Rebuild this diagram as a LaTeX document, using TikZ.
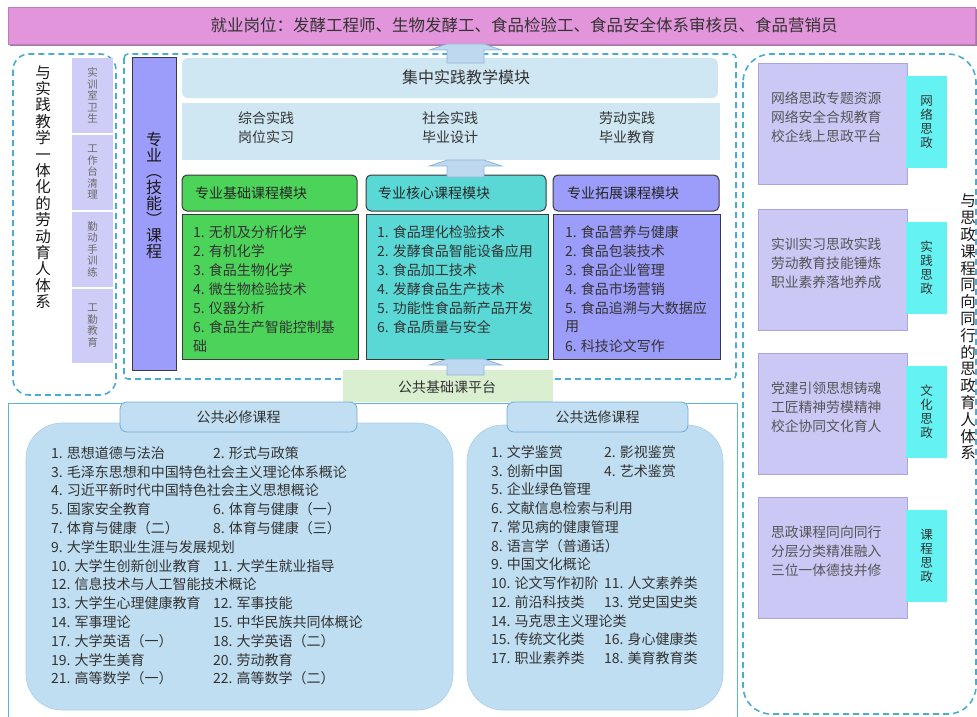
\documentclass[tikz,border=0pt]{standalone}
\usepackage{fontspec}
\setmainfont{Noto Sans CJK SC}
\usetikzlibrary{calc}
\definecolor{txt}{HTML}{333333}
\definecolor{banner}{HTML}{E395DB}
\definecolor{bannerline}{HTML}{BE7DB8}
\definecolor{shadowc}{HTML}{A47BA0}
\definecolor{dashc}{HTML}{4AACD3}
\definecolor{jzc}{HTML}{CFE6F3}
\definecolor{gr}{HTML}{4CD35A}
\definecolor{cy}{HTML}{59D8D5}
\definecolor{pu}{HTML}{9C9CFA}
\definecolor{hdline}{HTML}{3A3A3A}
\definecolor{lav}{HTML}{CDCDF7}
\definecolor{rbox}{HTML}{CBC8F6}
\definecolor{rboxline}{HTML}{A9A4E6}
\definecolor{rtab}{HTML}{64F2F2}
\definecolor{blist}{HTML}{BFDEF1}
\definecolor{blistline}{HTML}{A6CFEA}
\definecolor{btab}{HTML}{C1DEF2}
\definecolor{btabline}{HTML}{72ABD8}
\definecolor{pfc}{HTML}{DAEED0}
\definecolor{arrfill}{HTML}{BED8EF}
\definecolor{arrline}{HTML}{8DB5DD}
\definecolor{bline}{HTML}{5DB2D8}
\definecolor{graytxt}{HTML}{555555}
\newcommand\setfs[2]{\fontsize{#1}{#2}\selectfont}
\newcommand\mybox[6][]{\node[anchor=north west,minimum width={((#5)-(#3))*1pt},minimum height={((#6)-(#4))*1pt},#1] (#2) at (#3,#4) {};}
\newcommand\fatarrow[2]{%
  \path[fatarr] let \p1=#1, \p2=#2 in
   (\x1-18.5pt,\y2) -- (\x1-18.5pt,\y1-6pt) -- (\x1-36pt,\y1-6pt) -- (\x1-18.5pt,\y1)
   -- (\x1+18.5pt,\y1) -- (\x1+36pt,\y1-6pt) -- (\x1+18.5pt,\y1-6pt) -- (\x1+18.5pt,\y2) -- cycle;}
\newcommand\rblock[6]{%
  \mybox[fill=rbox,draw=rboxline,line width=0.8pt]{#1}{758}{#2}{907}{#2+121}
  \mybox[fill=rtab]{#1t}{906}{#2+13}{947}{#2+105}
  \node[font=\setfs{12.5}{14},align=center] at (#1t.center) {#6};
  \node[rtxt] (#1a) at (771,#2+35) {#3};
  \node[rtxt] (#1b) at (771,#2+54) {#4};
  \node[rtxt] (#1c) at (771,#2+73) {#5};}
\begin{document}
\begin{tikzpicture}[x=1pt,y=-1pt,
  every node/.style={inner sep=0pt,outer sep=0pt,text=txt},
  dashline/.style={draw=dashc,line width=1.6pt,dash pattern=on 6pt off 4pt},
  fatarr/.style={fill=arrfill,draw=arrline,line width=0.8pt},
  lst/.style={anchor=west,font=\setfs{14}{16}},
  blst/.style={anchor=west,font=\setfs{14}{16}},
  rtxt/.style={anchor=west,font=\setfs{13.8}{16},text=graytxt},
  hdr/.style={anchor=west,font=\setfs{14}{16},text=black!85},
  vtitle/.style={align=center,text=black!90}]
\useasboundingbox (0,0) rectangle (977,717);

% banner
\fill[shadowc] (10,9) rectangle (977,46.5);
\mybox[fill=banner,draw=bannerline,line width=0.6pt]{banner}{8}{7}{975}{44}
\node[font=\setfs{16.5}{18}] (bantxt) at (524,25.5) {就业岗位：发酵工程师、生物发酵工、食品检验工、食品安全体系审核员、食品营销员};

% dashed frames
\draw[dashline,rounded corners=4pt] (124,54) rectangle (736,379);
\draw[dashline,rounded corners=16pt] (13,54) rectangle (116,395);
\draw[dashline,rounded corners=28pt] (743,54) rectangle (976,714);

% left labour education column
\node[vtitle,font=\setfs{15.5}{16.4}] (lefttitle) at (43,187) {与\\实\\践\\教\\学\\一\\体\\化\\的\\劳\\动\\育\\人\\体\\系};
\mybox[fill=lav]{c1}{72}{58}{113}{133}
\mybox[fill=lav]{c2}{72}{134.5}{113}{210}
\mybox[fill=lav]{c3}{72}{211.5}{113}{287}
\mybox[fill=lav]{c4}{72}{288.5}{113}{363}
\tikzset{cellt/.style={align=center,font=\setfs{10.5}{11.5},text=black!58}}
\node[cellt] at (c1.center) {实\\训\\室\\卫\\生};
\node[cellt] at (c2.center) {工\\作\\台\\清\\理};
\node[cellt] at (c3.center) {勤\\动\\手\\训\\练};
\node[cellt] at (c4.center) {工\\勤\\教\\育};

% professional column
\mybox[fill=pu,draw=hdline,line width=0.8pt]{zy}{132}{57}{176}{370}
\node[vtitle,font=\setfs{16}{16}] (zytxt) at (154,195) {专\\业\\︵\\技\\能\\︶\\课\\程};

% practice module
\mybox[fill=jzc,rounded corners=6pt]{jz}{182}{58}{718}{98}
\node[font=\setfs{16}{18}] (jztxt) at (466,77.5) {集中实践教学模块};
\mybox[fill=jzc]{jzs}{182}{103}{720}{160}
\node[font=\setfs{14}{19},align=center] (s1) at (266,128) {综合实践\\岗位实习};
\node[font=\setfs{14}{19},align=center] (s2) at (450,128) {社会实践\\毕业设计};
\node[font=\setfs{14}{19},align=center] (s3) at (627,128) {劳动实践\\毕业教育};

% module headers
\mybox[fill=gr,draw=hdline,line width=1pt,rounded corners=5pt]{h1}{182}{175}{357}{211}
\mybox[fill=cy,draw=hdline,line width=1pt,rounded corners=5pt]{h2}{366}{175}{546}{211}
\mybox[fill=pu,draw=hdline,line width=1pt,rounded corners=5pt]{h3}{553}{175}{719}{211}
\node[hdr] at (195,193) {专业基础课程模块};
\node[hdr] at (378,193) {专业核心课程模块};
\node[hdr] at (567,193) {专业拓展课程模块};

% module lists
\mybox[fill=gr,draw=hdline,line width=1pt]{l1}{182}{214}{358}{359}
\mybox[fill=cy,draw=hdline,line width=1pt]{l2}{366}{214}{548}{359}
\mybox[fill=pu,draw=hdline,line width=1pt]{l3}{553}{214}{720}{359}
\foreach \t [count=\i from 0] in {1. 无机及分析化学,2. 有机化学,3. 食品生物化学,4. 微生物检验技术,5. 仪器分析,6. 食品生产智能控制基,础}
  \node[lst] (ga\i) at (193,232+19*\i) {\t};
\foreach \t [count=\i from 0] in {1. 食品理化检验技术,2. 发酵食品智能设备应用,3. 食品加工技术,4. 发酵食品生产技术,5. 功能性食品新产品开发,6. 食品质量与安全}
  \node[lst] (cb\i) at (377,232+19*\i) {\t};
\foreach \t [count=\i from 0] in {1. 食品营养与健康,2. 食品包装技术,3. 食品企业管理,4. 食品市场营销,5. 食品追溯与大数据应,用,6. 科技论文写作}
  \node[lst] (pc\i) at (565,232+19*\i) {\t};

% platform
\mybox[fill=pfc]{pf}{343}{370}{553}{402}
\node[font=\setfs{14}{16}] (pftxt) at (447,387) {公共基础课平台};

% arrows
\coordinate (ax) at (465.5,0);
\fatarrow{(ax |- banner.south)}{($(ax |- jz.north)+(0,5)$)}
\fatarrow{(ax |- jzs.south)}{($(ax |- h2.north)+(0,2)$)}
\fatarrow{(ax |- l2.south)}{($(ax |- pf.north)+(0,5)$)}

% bottom public courses
\draw[draw=bline,line width=0.8pt] (8,720) -- (8,403) -- (737,403) -- (737,720);
\mybox[fill=blist,draw=blistline,line width=0.6pt,rounded corners=36pt]{bl}{26}{423}{453}{710}
\mybox[fill=btab,draw=btabline,line width=0.8pt,rounded corners=7pt]{bt1}{120}{402}{357}{432}
\node[font=\setfs{14}{16}] (bt1txt) at (bt1.center) {公共必修课程};
\mybox[fill=blist,draw=blistline,line width=0.6pt,rounded corners=36pt]{br}{467}{425}{723}{710}
\mybox[fill=btab,draw=btabline,line width=0.8pt,rounded corners=7pt]{bt2}{507}{402}{688}{432}
\node[font=\setfs{14}{16}] (bt2txt) at (bt2.center) {公共选修课程};

\foreach \t [count=\i from 0] in {1. 思想道德与法治,3. 毛泽东思想和中国特色社会主义理论体系概论,4. 习近平新时代中国特色社会主义思想概论,5. 国家安全教育,7. 体育与健康（二）,9. 大学生职业生涯与发展规划,10. 大学生创新创业教育,12. 信息技术与人工智能技术概论,13. 大学生心理健康教育,14. 军事理论,17. 大学英语（一）,19. 大学生美育,21. 高等数学（一）}
  \node[blst] (ra\i) at (51,453+18.8*\i) {\t};
\foreach \r/\t in {0/2. 形式与政策,3/6. 体育与健康（一）,4/8. 体育与健康（三）,6/11. 大学生就业指导,8/12. 军事技能,9/15. 中华民族共同体概论,10/18. 大学英语（二）,11/20. 劳动教育,12/22. 高等数学（二）}
  \node[blst] (rb\r) at (213,453+18.8*\r) {\t};
\foreach \t [count=\i from 0] in {1. 文学鉴赏,3. 创新中国,5. 企业绿色管理,6. 文献信息检索与利用,7. 常见病的健康管理,8. 语言学（普通话）,9. 中国文化概论,10. 论文写作初阶,12. 前沿科技类,14. 马克思主义理论类,15. 传统文化类,17. 职业素养类}
  \node[blst] (ea\i) at (491,452+18.75*\i) {\t};
\foreach \r/\t in {0/2. 影视鉴赏,1/4. 艺术鉴赏,7/11. 人文素养类,8/13. 党史国史类,10/16. 身心健康类,11/18. 美育教育类}
  \node[blst] (eb\r) at (604,452+18.75*\r) {\t};

% right ideological column
\rblock{rb1}{63}{网络思政专题资源}{网络安全合规教育}{校企线上思政平台}{网\\络\\思\\政}
\rblock{rb2}{209}{实训实习思政实践}{劳动教育技能锤炼}{职业素养落地养成}{实\\践\\思\\政}
\rblock{rb3}{353}{党建引领思想铸魂}{工匠精神劳模精神}{校企协同文化育人}{文\\化\\思\\政}
\rblock{rb4}{497}{思政课程同向同行}{分层分类精准融入}{三位一体德技并修}{课\\程\\思\\政}
\node[vtitle,font=\setfs{15.5}{16.8}] (righttitle) at (968,327) {与\\思\\政\\课\\程\\同\\向\\同\\行\\的\\思\\政\\育\\人\\体\\系};
\end{tikzpicture}
\end{document}
